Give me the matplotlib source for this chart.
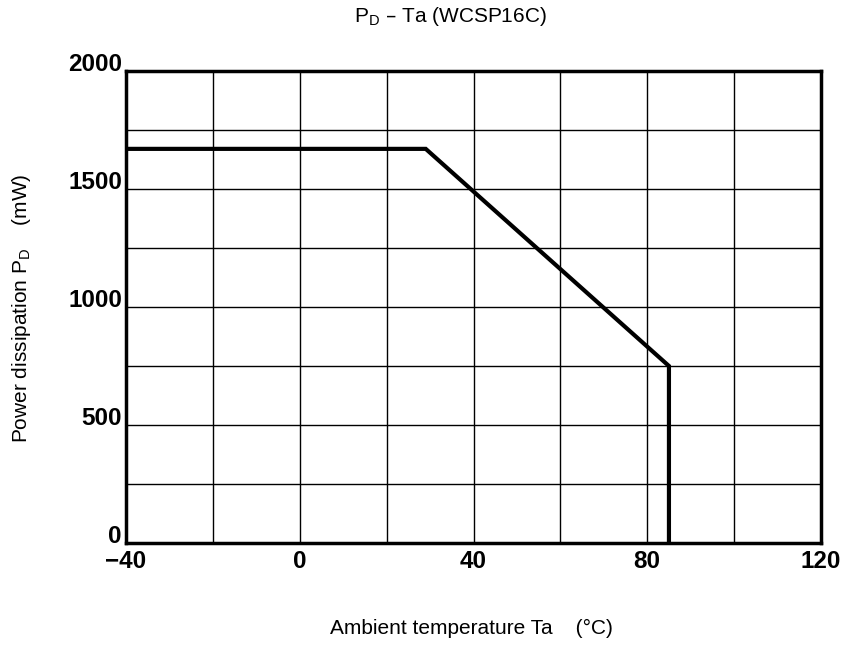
import matplotlib
matplotlib.use('Agg')
import matplotlib.pyplot as plt

plt.rcParams['font.family'] = ['Liberation Sans', 'DejaVu Sans']

# derating curve
temp = [-40, 29, 85, 85]
power = [1670, 1670, 750, 0]

x_ticks = [-40, 0, 40, 80, 120]
x_labels = ['\u221240', '0', '40', '80', '120']
y_ticks = [0, 500, 1000, 1500, 2000]
y_labels = ['0', '500', '1000', '1500', '2000']
x_grid = [-20, 0, 20, 40, 60, 80, 100]
y_grid = [250, 500, 750, 1000, 1250, 1500, 1750]

fig = plt.figure(figsize=(8.46, 6.47), dpi=100)
ax = fig.add_axes([0.149, 0.1607, 0.8214, 0.7296])

for g in x_grid:
    ax.axvline(g, color='black', lw=1.0, zorder=1)
for g in y_grid:
    ax.axhline(g, color='black', lw=1.0, zorder=1)

ax.plot(temp, power, color='black', lw=3.0, solid_joinstyle='miter', zorder=3)

ax.set_xlim(-40, 120)
ax.set_ylim(0, 2000)
ax.set_xticks(x_ticks)
ax.set_xticklabels(x_labels, fontsize=17.5, fontweight='bold')
ax.set_yticks(y_ticks)
ax.set_yticklabels(y_labels, fontsize=17.5, fontweight='bold')
ax.tick_params(axis='x', length=0, pad=5)
ax.tick_params(axis='y', length=0, pad=3)
for lbl in ax.get_yticklabels():
    lbl.set_verticalalignment('baseline')
for s in ax.spines.values():
    s.set_linewidth(2.5)

fig.text(0.532, 0.974, '$\\mathregular{P_D}$ \u2013 Ta (WCSP16C)',
         ha='center', va='center', fontsize=15)
fig.text(0.557, 0.028, 'Ambient temperature Ta    (\u00b0C)',
         ha='center', va='center', fontsize=15)
fig.text(0.026, 0.524, 'Power dissipation $\\mathregular{P_D}$    (mW)',
         ha='center', va='center', rotation=90, fontsize=15)

fig.savefig('out.png', dpi=100)
